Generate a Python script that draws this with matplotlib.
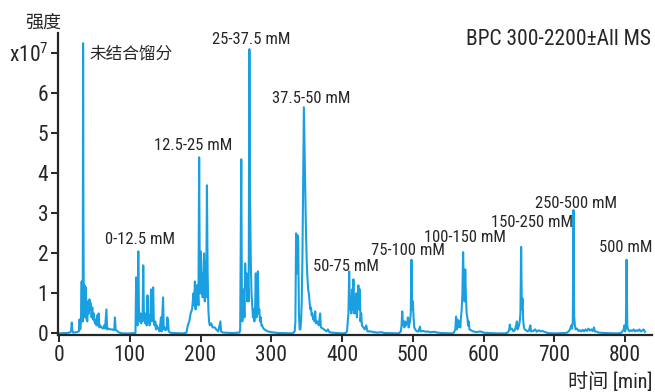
import matplotlib
matplotlib.use('Agg')
import matplotlib.pyplot as plt

plt.rcParams['font.family'] = ['Roboto Condensed', 'Noto Sans CJK SC', 'DejaVu Sans']
plt.rcParams['mathtext.fontset'] = 'custom'
plt.rcParams['mathtext.rm'] = 'Roboto Condensed'

# BPC chromatogram (time in min, intensity in 1e7 counts)
time = [0, 10, 15, 17, 18, 19, 20, 25, 28, 29, 30, 31, 32, 32.5, 33, 33.5, 34, 34.5, 35, 36,
        37, 38, 39, 40, 41, 42, 43, 44, 45, 46, 47, 48, 49, 50, 51, 52, 53, 54, 55, 56,
        57, 58, 60, 62, 64, 65, 67, 68, 70, 72, 75, 78, 79, 80, 82, 85, 90, 100, 108,
        109, 110, 111, 112, 113, 114, 115, 116, 117, 118, 119, 120, 121, 122, 123, 124, 125,
        126, 127, 128, 129, 130, 131, 132, 133, 134, 135, 136, 137, 138, 140, 142, 144, 145,
        147, 148, 149, 150, 152, 153, 154, 155, 157, 160, 175,
        180, 182, 184, 186, 188, 190, 191, 192, 193, 194, 195, 196, 197, 198, 199, 200, 201,
        202, 203, 204, 205, 206, 207, 208, 209, 210, 211, 212, 213, 215, 217, 220, 222, 225,
        228, 229, 232, 245, 255,
        256, 257.5, 258.5, 259, 260, 261, 262, 263, 264, 265, 266, 267, 268, 269, 270, 271,
        272, 273, 274, 275, 276, 277, 278, 279, 280, 281, 282, 283, 284, 285, 286, 287, 288,
        290, 292, 295, 300, 305, 310, 330,
        333, 334, 335, 336, 337, 338, 339, 340, 341, 342, 343, 344, 345, 346, 347, 348, 349,
        350, 351, 352, 353, 354, 355, 356, 357, 358, 359, 360, 361, 362, 363, 365, 367, 369,
        370, 373, 376, 378, 380, 382, 385, 400, 405,
        407, 408, 409, 410, 411, 412, 413, 414, 415, 416, 417, 418, 419, 420, 421, 422, 423,
        424, 425, 426, 427, 428, 430, 432, 434, 436, 440, 445, 450, 455, 460, 480,
        483, 484, 485, 486, 487, 488, 489, 490, 492, 493, 494, 496, 497, 498, 499, 500, 501,
        502, 504, 506, 508, 510, 511, 515, 518, 520, 525, 530, 535, 540, 555,
        558, 560, 561, 562, 563, 564, 565, 566, 567, 568, 569, 570, 571, 572, 573, 574, 575,
        576, 577, 578, 579, 580, 582, 585, 588, 590, 595, 600, 605, 620, 630,
        634, 636, 637, 638, 640, 642, 644, 646, 647, 648, 649, 650, 651, 652, 653, 654, 655,
        656, 657, 658, 660, 662, 664, 666, 667, 670, 673, 675, 678, 680, 683, 686, 688, 690,
        700, 715,
        718, 720, 722, 724, 725, 726, 727, 728, 729, 730, 732, 734, 736, 738, 740, 742, 744,
        746, 748, 750, 752, 754, 756, 757, 760, 763, 770, 790,
        795, 798, 799, 800, 801, 802, 803, 804, 806, 808, 810, 812, 814, 816, 818, 820, 822,
        824, 826, 828]
intensity = [0, 0.01, 0.02, 0.05, 0.27, 0.05, 0.02, 0.03, 0.05, 0.35, 0.1, 0.3, 1.3, 0.5, 1.25, 0.3, 7.25, 3.0, 0.6, 1.2,
             0.4, 1.15, 0.35, 0.3, 0.8, 0.5, 0.85, 0.6, 0.75, 0.4, 0.65, 0.35, 0.5, 0.3, 0.25, 0.35, 0.2, 0.45, 0.2, 0.5,
             0.15, 0.2, 0.15, 0.12, 0.2, 0.12, 0.6, 0.1, 0.12, 0.1, 0.1, 0.08, 0.4, 0.1, 0.06, 0.02, 0.0, 0.0, 0.01,
             1.4, 0.3, 0.2, 2.05, 0.5, 0.3, 0.5, 0.25, 0.45, 0.3, 1.7, 0.4, 0.5, 0.25, 0.5, 0.2, 0.95,
             0.3, 0.45, 0.2, 0.35, 1.1, 0.3, 0.6, 1.15, 0.3, 0.2, 0.3, 0.1, 0.2, 0.12, 0.05, 0.4, 0.05,
             0.9, 0.1, 0.15, 0.08, 0.1, 0.4, 0.3, 0.05, 0.02, 0.01, 0.0,
             0.02, 0.2, 0.3, 0.5, 0.6, 1.0, 0.7, 1.3, 0.6, 1.2, 0.8, 1.2, 0.7, 4.4, 1.0, 2.05, 1.0,
             1.5, 0.9, 1.6, 2.0, 0.8, 1.8, 0.9, 3.7, 1.5, 0.6, 0.3, 0.2, 0.25, 0.15, 0.15, 0.1, 0.05,
             0.3, 0.05, 0.02, 0.01, 0.02,
             0.1, 4.35, 0.5, 0.3, 0.5, 1.1, 0.4, 1.75, 1.2, 1.5, 0.8, 1.2, 0.8, 7.1, 3.3, 1.8,
             1.0, 0.7, 0.4, 0.6, 0.3, 0.5, 1.5, 0.4, 0.8, 1.55, 0.5, 0.6, 0.3, 0.4, 0.2, 0.2, 0.15,
             0.1, 0.08, 0.05, 0.03, 0.02, 0.01, 0.0,
             0.05, 0.3, 2.5, 1.5, 2.45, 2.3, 0.5, 0.1, 0.1, 0.3, 0.8, 2.0, 3.8, 5.65, 4.5, 3.5, 2.5,
             1.8, 1.4, 1.1, 1.0, 0.8, 0.6, 0.65, 0.45, 0.5, 0.35, 0.4, 0.3, 0.55, 0.25, 0.3, 0.2, 0.5,
             0.15, 0.12, 0.08, 0.05, 0.1, 0.03, 0.02, 0.0, 0.01,
             0.05, 0.3, 0.5, 1.55, 0.6, 0.9, 0.5, 1.1, 0.6, 1.35, 0.5, 0.9, 0.5, 1.0, 0.4, 0.9, 1.2,
             0.6, 1.1, 0.3, 0.5, 0.2, 0.15, 0.1, 0.2, 0.05, 0.05, 0.03, 0.02, 0.03, 0.01, 0.0,
             0.05, 0.2, 0.55, 0.2, 0.3, 0.15, 0.3, 0.2, 0.25, 0.4, 0.15, 0.3, 0.5, 1.84, 0.6, 0.8, 0.4,
             0.15, 0.08, 0.05, 0.05, 0.17, 0.05, 0.06, 0.04, 0.05, 0.03, 0.04, 0.02, 0.01, 0.0,
             0.02, 0.1, 0.42, 0.1, 0.35, 0.15, 0.2, 0.3, 0.15, 0.4, 0.6, 1.0, 2.03, 1.2, 0.8, 1.6, 0.9,
             0.5, 0.4, 0.2, 0.3, 0.1, 0.08, 0.05, 0.04, 0.03, 0.05, 0.02, 0.01, 0.0, 0.0,
             0.02, 0.08, 0.22, 0.1, 0.12, 0.05, 0.08, 0.2, 0.3, 0.1, 0.15, 0.2, 0.3, 0.5, 2.16, 0.6, 0.87,
             0.3, 0.15, 0.1, 0.08, 0.05, 0.07, 0.2, 0.05, 0.06, 0.1, 0.04, 0.08, 0.05, 0.06, 0.04, 0.03, 0.01,
             0.0, 0.01,
             0.02, 0.05, 0.1, 0.2, 0.12, 0.3, 3.08, 0.4, 0.2, 0.1, 0.12, 0.06, 0.08, 0.05, 0.09, 0.05, 0.1,
             0.06, 0.12, 0.07, 0.1, 0.06, 0.15, 0.05, 0.04, 0.02, 0.01, 0.0,
             0.02, 0.1, 0.2, 0.05, 0.15, 1.84, 0.2, 0.1, 0.05, 0.08, 0.06, 0.1, 0.05, 0.08, 0.06, 0.1, 0.05,
             0.07, 0.1, 0.04]

# fraction labels (text, time, intensity of label centre-left)
labels = ['未结合馏分', '0-12.5 mM', '12.5-25 mM', '25-37.5 mM', '37.5-50 mM', '50-75 mM',
          '75-100 mM', '100-150 mM', '150-250 mM', '250-500 mM', '500 mM']
label_x = [42.4, 65, 134.4, 216.4, 301, 359, 441, 516, 611, 672, 763.7]
label_y = [7.0, 2.35, 4.7, 7.33, 5.88, 1.68, 2.08, 2.4, 2.78, 3.25, 2.15]

yticks = [0, 1, 2, 3, 4, 5, 6, 7]
ytick_labels = ['0', '1', '2', '3', '4', '5', '6', r'$\mathregular{x10^7}$']
xticks = [0, 100, 200, 300, 400, 500, 600, 700, 800]

dark = '#262626'
fig = plt.figure(figsize=(6.55, 3.92), dpi=100)
ax = fig.add_axes([0.0885, 0.1454, 0.907, 0.770])
ax.plot(time, intensity, color='#1aa0e0', lw=1.5)

ax.set_xlim(-1.5, 838)
ax.set_ylim(-0.04, 7.5)
ax.set_yticks(yticks)
ax.set_yticklabels(ytick_labels)
ax.set_xticks(xticks)
for s in ['top', 'right']:
    ax.spines[s].set_visible(False)
for s in ['left', 'bottom']:
    ax.spines[s].set_color(dark)
    ax.spines[s].set_linewidth(1.6)
ax.tick_params(direction='out', length=5, width=1.4, colors=dark, labelsize=15.5, pad=2)

for t, lx, ly in zip(labels, label_x, label_y):
    ax.text(lx, ly, t, fontsize=12, color=dark, ha='left', va='center')
ax.text(836, 7.33, 'BPC 300-2200±All MS', fontsize=15.5, color=dark, ha='right', va='center')

fig.text(25 / 655, 1 - 23 / 392, '强度', fontsize=13, color=dark, ha='left', va='center')
fig.text(652 / 655, 1 - 382 / 392, '时间 [min]', fontsize=14.5, color=dark, ha='right', va='center')

fig.savefig('out.png', dpi=100)
